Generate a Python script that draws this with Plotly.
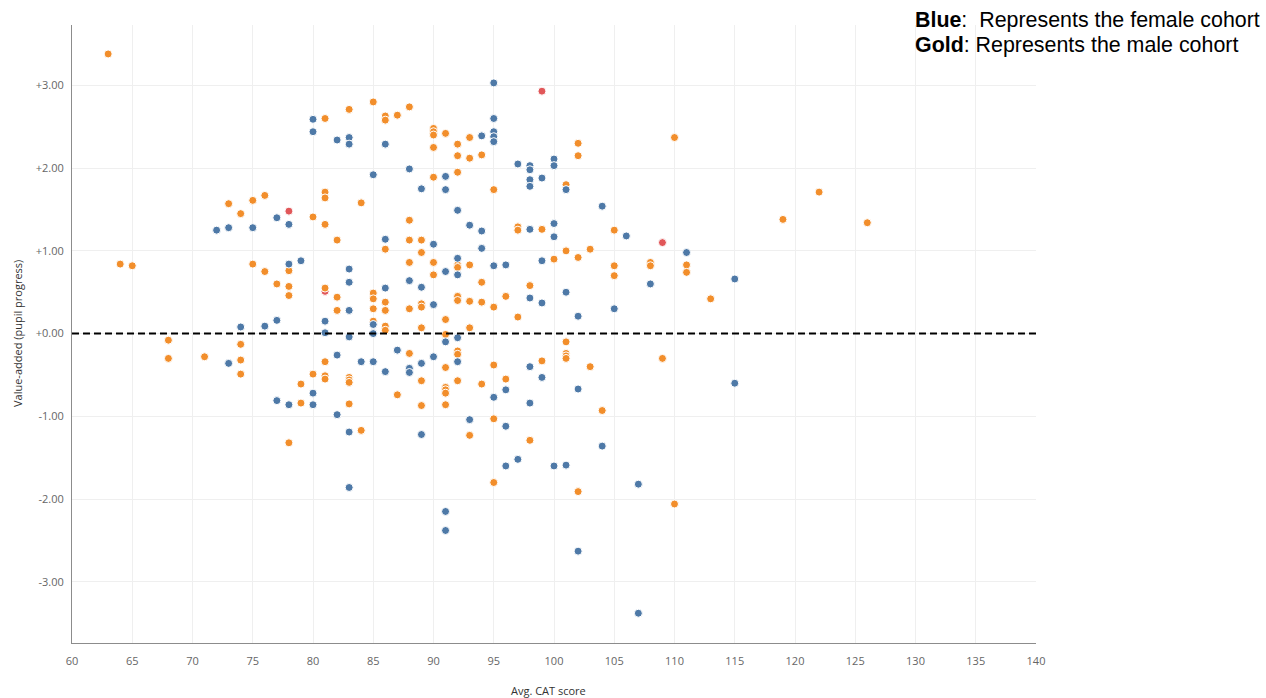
import plotly.graph_objects as go

# ---------------- data ----------------
female_x = [72, 73, 75, 77, 78, 80, 80, 82, 83, 83, 85,
            95, 86, 94, 95, 95, 95, 95, 88, 89, 91, 91, 97, 98, 98, 98, 98, 99, 100, 100, 92, 98, 100, 100, 93, 94, 86, 90, 94,
            101, 104, 106, 111,
            78, 79, 83, 83, 83, 85, 81, 77, 76, 74, 81, 83, 85, 73, 82, 84, 85, 80, 77, 78, 80, 82, 83, 83,
            92, 95, 96, 99, 91, 92, 88, 86, 89, 90, 98, 99, 91, 92, 87, 90, 92, 86, 88, 88, 89, 98, 99, 96, 95, 98, 93, 96, 89,
            96, 97, 100, 91, 91, 101, 104, 107, 102, 107,
            108, 101, 105, 102, 102, 115, 115]
female_y = [1.25, 1.28, 1.28, 1.40, 1.32, 2.59, 2.44, 2.34, 2.37, 2.29, 1.92,
            3.03, 2.29, 2.39, 2.60, 2.44, 2.38, 2.32, 1.99, 1.75, 1.74, 1.90, 2.05, 2.03, 1.98, 1.86, 1.78, 1.88, 2.11, 2.03, 1.49, 1.26, 1.33, 1.17, 1.31, 1.24, 1.14, 1.08, 1.03,
            1.74, 1.54, 1.18, 0.98,
            0.84, 0.88, 0.78, 0.62, 0.28, 0.11, 0.15, 0.16, 0.09, 0.08, 0.01, -0.04, 0.00, -0.36, -0.26, -0.34, -0.34, -0.72, -0.81, -0.86, -0.86, -0.98, -1.19, -1.86,
            0.91, 0.82, 0.83, 0.88, 0.75, 0.71, 0.64, 0.55, 0.56, 0.35, 0.43, 0.37, -0.10, -0.05, -0.20, -0.28, -0.34, -0.46, -0.42, -0.47, -0.36, -0.40, -0.53, -0.68, -0.77, -0.84, -1.04, -1.12, -1.22,
            -1.60, -1.52, -1.60, -2.15, -2.38, -1.59, -1.36, -1.82, -2.63, -3.38,
            0.60, 0.50, 0.30, 0.21, -0.67, 0.66, -0.60]

male_x = [63, 64, 65, 68, 68, 71,
          85, 83, 81, 81, 81, 84, 76, 75, 73, 74, 80, 81, 82,
          86, 86, 87, 88, 90, 90, 90, 91, 90, 92, 93, 92, 93, 94, 92, 90, 95, 97, 97, 99, 88, 86, 88, 89, 89,
          102, 102, 110, 101, 105, 101, 103, 102,
          75, 76, 78, 77, 78, 78, 81, 82, 82, 85, 85, 85, 85, 74, 74, 74, 81, 80, 81, 81, 83, 83, 83, 79, 79, 83, 84, 78,
          88, 90, 92, 92, 93, 100, 90, 94, 98, 86, 86, 88, 89, 89, 92, 92, 93, 94, 95, 96, 97, 91, 89, 93, 86, 86, 91, 88, 92, 92, 91, 95, 99, 96, 92, 89, 87, 91, 91, 91, 94, 89, 91, 95, 93, 98, 95,
          102, 110,
          105, 105, 108, 108, 111, 111, 113, 101, 101, 101, 101, 103, 109, 104,
          119, 122, 126]
male_y = [3.38, 0.84, 0.82, -0.08, -0.30, -0.28,
          2.80, 2.71, 2.60, 1.71, 1.64, 1.58, 1.67, 1.61, 1.57, 1.45, 1.41, 1.32, 1.13,
          2.63, 2.58, 2.64, 2.74, 2.48, 2.44, 2.40, 2.42, 2.25, 2.29, 2.37, 2.15, 2.12, 2.16, 1.95, 1.89, 1.74, 1.29, 1.25, 1.26, 1.37, 1.02, 1.13, 1.13, 0.98,
          2.30, 2.15, 2.37, 1.80, 1.25, 1.00, 1.02, 0.92,
          0.84, 0.75, 0.76, 0.60, 0.57, 0.46, 0.55, 0.44, 0.28, 0.49, 0.42, 0.30, 0.15, -0.13, -0.32, -0.49, -0.34, -0.49, -0.51, -0.55, -0.53, -0.56, -0.59, -0.61, -0.84, -0.85, -1.17, -1.32,
          0.86, 0.86, 0.83, 0.80, 0.83, 0.90, 0.71, 0.62, 0.58, 0.38, 0.28, 0.30, 0.36, 0.32, 0.45, 0.40, 0.39, 0.38, 0.32, 0.45, 0.20, 0.17, 0.07, 0.07, 0.09, 0.04, -0.01, -0.24, -0.21, -0.25, -0.41, -0.38, -0.33, -0.55, -0.57, -0.57, -0.74, -0.65, -0.68, -0.72, -0.61, -0.87, -0.86, -1.03, -1.23, -1.29, -1.80,
          -1.91, -2.06,
          0.82, 0.70, 0.86, 0.82, 0.83, 0.74, 0.42, -0.10, -0.24, -0.27, -0.30, -0.40, -0.30, -0.93,
          1.38, 1.71, 1.34]

other_x = [78, 81, 99, 109]
other_y = [1.48, 0.51, 2.93, 1.10]

x_ticks = [60, 65, 70, 75, 80, 85, 90, 95, 100, 105, 110, 115, 120, 125, 130, 135, 140]
y_ticks = [3, 2, 1, 0, -1, -2, -3]
y_tick_text = ["+3.00", "+2.00", "+1.00", "+0.00", "-1.00", "-2.00", "-3.00"]

BLUE = "#4e79a7"
GOLD = "#f28e2b"
RED = "#e15759"

fig = go.Figure()

def add_series(xs, ys, color, name):
    fig.add_trace(go.Scatter(
        x=xs, y=ys, mode="markers", name=name,
        marker=dict(size=8, color=color, line=dict(color="white", width=1)),
        showlegend=False,
    ))

add_series(other_x, other_y, RED, "Other")
add_series(male_x, male_y, GOLD, "Male")
add_series(female_x, female_y, BLUE, "Female")

fig.add_hline(y=0, line=dict(color="black", width=2, dash="7px,4px"), layer="above")

tick_font = dict(family="Open Sans, Noto Sans, sans-serif", size=11, color="#666666")

fig.update_xaxes(
    range=[60, 140], tickvals=x_ticks, ticktext=[str(v) for v in x_ticks],
    showgrid=True, gridcolor="#efefef", gridwidth=1,
    zeroline=False, showline=True, linecolor="#8c8c8c", linewidth=1,
    ticks="outside", ticklen=8, tickcolor="rgba(0,0,0,0)",
    tickfont=tick_font, fixedrange=True,
)
fig.update_yaxes(
    range=[-3.74, 3.73], tickvals=y_ticks, ticktext=y_tick_text,
    showgrid=True, gridcolor="#efefef", gridwidth=1,
    zeroline=False, showline=True, linecolor="#8c8c8c", linewidth=1,
    ticks="outside", ticklen=5, tickcolor="rgba(0,0,0,0)",
    tickfont=tick_font, fixedrange=True,
)

legend_font = dict(family="Liberation Sans, Arial, sans-serif", size=21.4, color="black")
fig.add_annotation(
    x=(913 - 72) / 964, y=1.008, xref="paper", yref="paper",
    xanchor="left", yanchor="middle", showarrow=False, align="left",
    text="<b>Blue</b>:\u00a0 Represents the female cohort", font=legend_font,
)
fig.add_annotation(
    x=(913 - 72) / 964, y=0.968, xref="paper", yref="paper",
    xanchor="left", yanchor="middle", showarrow=False, align="left",
    text="<b>Gold</b>: Represents the male cohort", font=legend_font,
)

title_font = dict(family="Open Sans, Noto Sans, sans-serif", size=11, color="#333333")
fig.add_annotation(
    x=(548 - 72) / 964, y=(643 - 690) / 618, xref="paper", yref="paper",
    xanchor="center", yanchor="middle", showarrow=False,
    text="Avg. CAT score", font=title_font,
)
fig.add_annotation(
    x=(17 - 72) / 964, y=0.5, xref="paper", yref="paper",
    xanchor="center", yanchor="middle", showarrow=False, textangle=-90,
    text="Value-added (pupil progress)", font=title_font,
)

fig.update_layout(
    width=1266, height=698,
    margin=dict(l=72, r=230, t=25, b=55),
    paper_bgcolor="white", plot_bgcolor="white",
    hovermode="closest",
)

fig.write_html(
    "out.html",
    config={"displayModeBar": False},
    post_script="document.body.style.margin='0';document.body.style.overflow='hidden';",
)
